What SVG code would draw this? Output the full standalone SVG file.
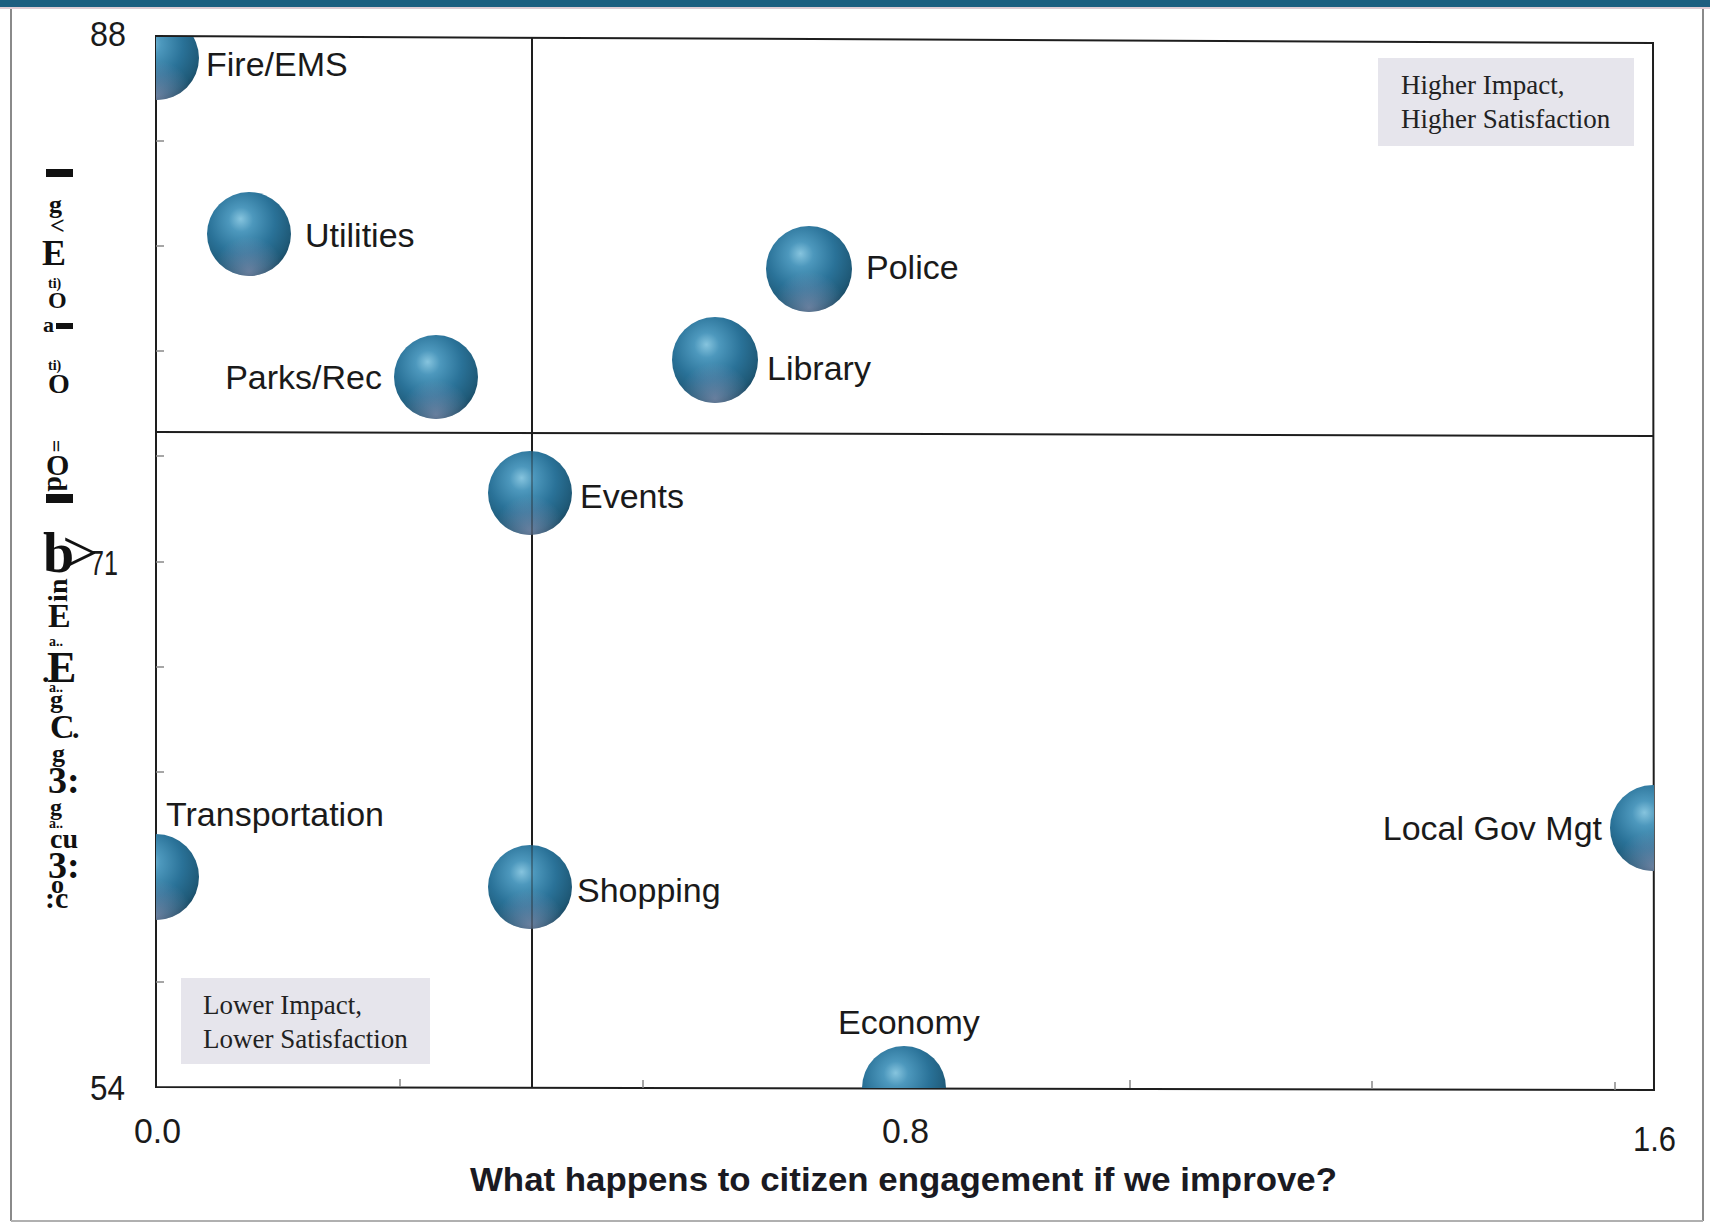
<svg xmlns="http://www.w3.org/2000/svg" width="1710" height="1225" viewBox="0 0 1710 1225">
<style>
.lbl{font-family:"Liberation Sans",Arial,sans-serif;font-size:34px;fill:#1a1a1a}
.tick{font-family:"Liberation Sans Narrow","Liberation Sans",Arial,sans-serif;font-size:35px;fill:#1a1a1a}
.note{font-family:"Liberation Serif","Times New Roman",serif;font-size:27px;fill:#222}
.yg{font-family:"Liberation Serif","Times New Roman",serif;font-weight:bold;fill:#111}
.ax{fill:none;stroke:#1e1e1e;stroke-width:2}
.tk{stroke:#888;stroke-width:1.5}
.box{fill:#e6e5ec}
</style>
<defs>
<radialGradient id="ball" cx="0.42" cy="0.36" r="0.66" fx="0.4" fy="0.32">
<stop offset="0" stop-color="#86c4de"/>
<stop offset="0.22" stop-color="#4d98bd"/>
<stop offset="0.6" stop-color="#2a7298"/>
<stop offset="0.9" stop-color="#1f5a78"/>
<stop offset="1" stop-color="#1b4c66"/>
</radialGradient>
<radialGradient id="ballb" cx="0.5" cy="0.95" r="0.42">
<stop offset="0" stop-color="#b0a4c4" stop-opacity="0.5"/>
<stop offset="1" stop-color="#b0a4c4" stop-opacity="0"/>
</radialGradient>
<clipPath id="plot"><rect x="156" y="37" width="1498" height="1051"/></clipPath>
</defs>
<rect width="1710" height="1225" fill="#ffffff"/>
<rect x="0" y="0" width="1710" height="7" fill="#1d5f80"/>
<rect x="0" y="7" width="1710" height="2" fill="#c9aab8" opacity="0.6"/>
<g id="frame">
<line x1="11" y1="9" x2="11" y2="1221" stroke="#8a8a8a" stroke-width="2"/>
<line x1="1703" y1="9" x2="1703" y2="1221" stroke="#8a8a8a" stroke-width="2"/>
<line x1="11" y1="1221" x2="1703" y2="1221" stroke="#b0b0b0" stroke-width="2"/>
</g>
<g id="connectors">
<polygon class="ax" points="156,36 1653,43 1654,1090 156,1087"/>
<line class="ax" x1="532" y1="38" x2="532" y2="1088" stroke-width="1.6"/>
<line class="ax" x1="156" y1="432" x2="1654" y2="436"/>
<g class="tk">
<line x1="156" y1="141" x2="164" y2="141"/>
<line x1="156" y1="246" x2="164" y2="246"/>
<line x1="156" y1="351" x2="164" y2="351"/>
<line x1="156" y1="456" x2="164" y2="456"/>
<line x1="156" y1="562" x2="164" y2="562"/>
<line x1="156" y1="667" x2="164" y2="667"/>
<line x1="156" y1="772" x2="164" y2="772"/>
<line x1="156" y1="877" x2="164" y2="877"/>
<line x1="156" y1="982" x2="164" y2="982"/>
<line x1="400" y1="1087" x2="400" y2="1079"/>
<line x1="643" y1="1088" x2="643" y2="1080"/>
<line x1="1130" y1="1088" x2="1130" y2="1080"/>
<line x1="1372" y1="1089" x2="1372" y2="1081"/>
<line x1="1615" y1="1090" x2="1615" y2="1082"/>
</g>
</g>
<g id="quadrant-high">
<rect class="box" x="1378" y="58" width="256" height="88"/>
<text class="note" x="1401" y="94">Higher Impact,</text>
<text class="note" x="1401" y="128">Higher Satisfaction</text>
</g>
<g id="quadrant-low">
<rect class="box" x="181" y="978" width="249" height="86"/>
<text class="note" x="203" y="1014">Lower Impact,</text>
<text class="note" x="203" y="1048">Lower Satisfaction</text>
</g>
<g id="fire-ems">
<g clip-path="url(#plot)"><circle cx="157" cy="58" r="42" fill="url(#ball)"/><circle cx="157" cy="58" r="42" fill="url(#ballb)"/></g>
<text class="lbl" x="206" y="76">Fire/EMS</text>
</g>
<g id="utilities">
<circle cx="249" cy="234" r="42" fill="url(#ball)"/><circle cx="249" cy="234" r="42" fill="url(#ballb)"/>
<text class="lbl" x="305" y="247">Utilities</text>
</g>
<g id="parks-rec">
<circle cx="436" cy="377" r="42" fill="url(#ball)"/><circle cx="436" cy="377" r="42" fill="url(#ballb)"/>
<text class="lbl" x="382" y="389" text-anchor="end">Parks/Rec</text>
</g>
<g id="police">
<circle cx="809" cy="269" r="43" fill="url(#ball)"/><circle cx="809" cy="269" r="43" fill="url(#ballb)"/>
<text class="lbl" x="866" y="279">Police</text>
</g>
<g id="library">
<circle cx="715" cy="360" r="43" fill="url(#ball)"/><circle cx="715" cy="360" r="43" fill="url(#ballb)"/>
<text class="lbl" x="767" y="380">Library</text>
</g>
<g id="events">
<circle cx="530" cy="493" r="42" fill="url(#ball)"/><circle cx="530" cy="493" r="42" fill="url(#ballb)"/>
<line x1="532" y1="451" x2="532" y2="535" stroke="#1e1e1e" stroke-width="1.2" opacity="0.6"/>
<text class="lbl" x="580" y="508">Events</text>
</g>
<g id="transportation">
<g clip-path="url(#plot)"><circle cx="156" cy="877" r="43" fill="url(#ball)"/><circle cx="156" cy="877" r="43" fill="url(#ballb)"/></g>
<text class="lbl" x="166" y="826">Transportation</text>
</g>
<g id="shopping">
<circle cx="530" cy="887" r="42" fill="url(#ball)"/><circle cx="530" cy="887" r="42" fill="url(#ballb)"/>
<line x1="532" y1="845" x2="532" y2="929" stroke="#1e1e1e" stroke-width="1.2" opacity="0.6"/>
<text class="lbl" x="577" y="902">Shopping</text>
</g>
<g id="local-gov-mgt">
<g clip-path="url(#plot)"><circle cx="1653" cy="828" r="43" fill="url(#ball)"/><circle cx="1653" cy="828" r="43" fill="url(#ballb)"/></g>
<text class="lbl" x="1602" y="840" text-anchor="end">Local Gov Mgt</text>
</g>
<g id="economy">
<g clip-path="url(#plot)"><circle cx="904" cy="1088" r="42" fill="url(#ball)"/></g>
<text class="lbl" x="838" y="1034">Economy</text>
</g>
<g id="axis-labels">
<text class="tick" x="90" y="46" textLength="36" lengthAdjust="spacingAndGlyphs">88</text>
<text class="tick" x="90" y="575" textLength="28" lengthAdjust="spacingAndGlyphs">71</text>
<text class="tick" x="90" y="1100" textLength="35" lengthAdjust="spacingAndGlyphs">54</text>
<text class="tick" x="134" y="1143" textLength="47" lengthAdjust="spacingAndGlyphs">0.0</text>
<text class="tick" x="882" y="1143" textLength="47" lengthAdjust="spacingAndGlyphs">0.8</text>
<text class="tick" x="1633" y="1151" textLength="43" lengthAdjust="spacingAndGlyphs">1.6</text>
<text x="470" y="1191" font-family="'Liberation Sans',Arial,sans-serif" font-weight="bold" font-size="33" fill="#1a1a22" textLength="867" lengthAdjust="spacingAndGlyphs">What happens to citizen engagement if we improve?</text>
</g>
<g id="y-axis-title">
<rect x="46" y="169" width="27" height="8" fill="#111"/>
<rect x="56" y="323" width="17" height="6" fill="#111"/>
<rect x="46" y="494" width="27" height="9" fill="#111"/>
<text class="yg"><tspan x="49" y="213" font-size="26">g</tspan><tspan x="50" y="234" font-size="26">&lt;</tspan><tspan x="42" y="265" font-size="36">E</tspan><tspan x="48" y="288" font-size="14">ti)</tspan><tspan x="48" y="308" font-size="24">O</tspan><tspan x="43" y="332" font-size="22">a</tspan><tspan x="48" y="370" font-size="14">ti)</tspan><tspan x="48" y="393" font-size="28">O</tspan><tspan x="49" y="440" font-size="22" rotate="90">=</tspan><tspan x="46" y="475" font-size="30">O</tspan><tspan x="48" y="476" font-size="28" rotate="90">d</tspan><tspan x="43" y="572" font-size="56">b</tspan><tspan x="62" y="574" font-size="64" font-weight="normal">&gt;</tspan><tspan x="67" y="602" font-size="28" rotate="-90">i</tspan><tspan x="67" y="594" font-size="28" rotate="-90">n</tspan><tspan x="48" y="627" font-size="34">E</tspan><tspan x="49" y="646" font-size="14">a..</tspan><tspan x="42" y="682" font-size="30">.</tspan><tspan x="47" y="682" font-size="44">E</tspan><tspan x="49" y="692" font-size="14">a..</tspan><tspan x="50" y="708" font-size="26">g</tspan><tspan x="50" y="738" font-size="34">C</tspan><tspan x="72" y="738" font-size="30">.</tspan><tspan x="52" y="762" font-size="26">g</tspan><tspan x="48" y="793" font-size="38">3:</tspan><tspan x="50" y="815" font-size="24">g</tspan><tspan x="49" y="828" font-size="14">a..</tspan><tspan x="50" y="848" font-size="28">cu</tspan><tspan x="48" y="878" font-size="38">3:</tspan><tspan x="51" y="893" font-size="26">o</tspan><tspan x="45" y="908" font-size="30">:c</tspan></text>
</g>
</svg>
